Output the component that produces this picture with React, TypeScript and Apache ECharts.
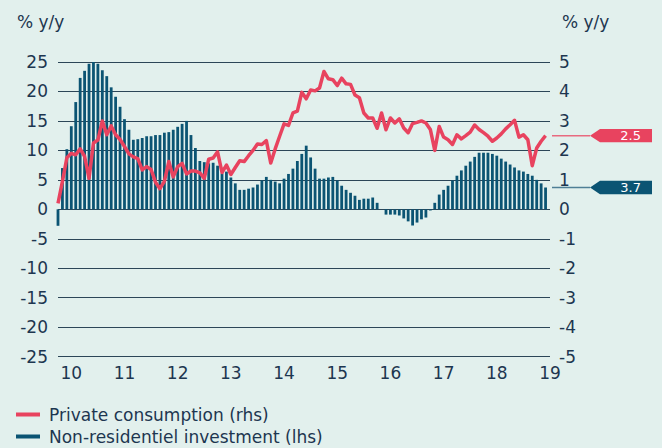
import React, { useEffect, useRef } from "react";
import * as echarts from "echarts";

// Monthly data, Oct 2009 .. Dec 2018
const startYear = 2009;
const startMonth = 10; // October
const yearLabels = ["10", "11", "12", "13", "14", "15", "16", "17", "18", "19"];

// Non-residential investment, % y/y (left axis)
const investment = [
  -2.8, 7.0, 10.2, 14.1, 18.2, 22.3, 23.5, 24.7, 25.8, 24.7,
  23.6, 22.6, 20.7, 19.1, 17.4, 15.3, 13.5, 11.8, 11.9, 12.1,
  12.4, 12.4, 12.6, 12.6, 13.0, 13.1, 13.5, 14.0, 14.5, 15.0,
  12.6, 10.4, 8.2, 8.0, 7.8, 7.9, 7.4, 6.1, 6.4, 5.4,
  4.4, 3.3, 3.3, 3.5, 3.7, 4.2, 4.9, 5.5, 5.0, 4.7,
  4.4, 5.2, 6.0, 6.9, 8.2, 9.4, 10.8, 8.8, 6.9, 5.2,
  5.2, 5.4, 5.5, 4.9, 4.0, 3.3, 2.8, 2.3, 1.6, 1.8,
  1.8, 2.0, 1.1, 0.0, -0.9, -0.9, -0.9, -1.05, -1.55, -2.05,
  -2.75, -2.25, -1.7, -1.4, -0.2, 1.1, 2.5, 3.3, 4.0, 4.9,
  5.7, 6.6, 7.4, 8.1, 8.9, 9.6, 9.6, 9.6, 9.4, 9.1,
  8.6, 8.1, 7.6, 7.1, 6.6, 6.4, 6.0, 5.7, 5.0, 4.4,
  3.7,
];

// Private consumption, % y/y (right axis)
const consumption = [
  0.2, 0.95, 1.75, 1.9, 1.85, 2.05, 1.8, 1.05, 2.25, 2.35,
  3.0, 2.53, 2.83, 2.53, 2.37, 2.13, 1.88, 1.78, 1.72, 1.34,
  1.45, 1.35, 0.92, 0.7, 0.95, 1.62, 1.1, 1.45, 1.56, 1.2,
  1.3, 1.3, 1.24, 1.05, 1.7, 1.74, 1.95, 1.25, 1.5, 1.18,
  1.42, 1.65, 1.62, 1.82, 2.0, 2.22, 2.2, 2.33, 1.57, 2.05,
  2.48, 2.9, 2.85, 3.27, 3.33, 3.97, 3.75, 4.05, 4.02, 4.12,
  4.68, 4.43, 4.4, 4.2, 4.45, 4.26, 4.24, 3.88, 3.79, 3.27,
  3.1, 3.1, 2.75, 3.27, 2.7, 3.1, 2.93, 3.07, 2.76, 2.6,
  2.91, 2.95, 3.0, 2.93, 2.71, 2.0, 2.81, 2.45, 2.36, 2.2,
  2.53, 2.39, 2.5, 2.62, 2.86, 2.71, 2.6, 2.48, 2.31, 2.42,
  2.56, 2.73, 2.87, 3.02, 2.45, 2.53, 2.36, 1.48, 2.08, 2.31,
  2.5,
];

const consumptionName = "Private consumption (rhs)";
const investmentName = "Non-residentiel investment (lhs)";

const RED = "#e8435f";
const BLUE = "#0b5473";
const NAVY = "#1d3650";
const GRID = "#2c4658";
const BG = "#e2f0ed";
const FONT = "DejaVu Sans";

// one category per month, plus Jan 2019 for the last year label
const categories: string[] = [];
for (let i = 0; i <= investment.length; i++) {
  const m = startMonth - 1 + i;
  const y = startYear + Math.floor(m / 12);
  const mm = (m % 12) + 1;
  categories.push(`${y}-${mm < 10 ? "0" + mm : mm}`);
}

const yearLabelFor = (cat: string) => {
  const [y, m] = cat.split("-");
  if (m !== "01") return "";
  const idx = Number(y) - 2010;
  return yearLabels[idx] ?? "";
};

export default function App() {
  const ref = useRef<HTMLDivElement>(null);

  useEffect(() => {
    if (!ref.current) return;
    const chart = echarts.init(ref.current, undefined, { renderer: "svg" });

    const axisLabelStyle = {
      color: NAVY,
      fontFamily: FONT,
      fontSize: 17,
    };

    chart.setOption({
      animation: false,
      backgroundColor: BG,
      grid: { left: 58, right: 112, top: 62, bottom: 91.4, containLabel: false },
      legend: {
        orient: "vertical",
        left: 16,
        top: 406,
        height: 42,
        padding: 0,
        itemWidth: 24,
        itemHeight: 4,
        itemGap: 5,
        icon: "rect",
        data: [consumptionName, investmentName],
        textStyle: {
          color: NAVY,
          fontFamily: FONT,
          fontSize: 17,
          lineHeight: 17,
          padding: [0, 0, 0, 4],
        },
        selectedMode: false,
      },
      xAxis: {
        type: "category",
        data: categories,
        boundaryGap: false,
        axisLine: { show: false },
        axisTick: { show: false },
        splitLine: { show: false },
        axisLabel: {
          ...axisLabelStyle,
          margin: 8,
          interval: (_i: number, v: string) => yearLabelFor(v) !== "",
          formatter: (v: string) => yearLabelFor(v),
        },
      },
      yAxis: [
        {
          type: "value",
          min: -25,
          max: 25,
          interval: 5,
          axisLine: { show: false },
          axisTick: { show: false },
          splitLine: { show: true, lineStyle: { color: GRID, width: 1 } },
          axisLabel: {
            ...axisLabelStyle,
            margin: 10,
            verticalAlign: "middle",
            padding: [0, 0, 8, 0],
          },
        },
        {
          type: "value",
          min: -5,
          max: 5,
          interval: 1,
          position: "right",
          axisLine: { show: false },
          axisTick: { show: false },
          splitLine: { show: false },
          axisLabel: {
            ...axisLabelStyle,
            margin: 9,
            verticalAlign: "middle",
            padding: [0, 0, 8, 0],
          },
        },
      ],
      series: [
        {
          name: investmentName,
          type: "bar",
          yAxisIndex: 0,
          data: investment,
          barWidth: 2.8,
          itemStyle: { color: BLUE },
          z: 2,
        },
        {
          name: consumptionName,
          type: "line",
          yAxisIndex: 1,
          data: consumption,
          symbol: "none",
          lineStyle: { color: RED, width: 3.5, join: "round" },
          itemStyle: { color: RED },
          z: 3,
        },
      ],
    });

    const lastIdx = investment.length - 1;
    const lastCons = consumption[consumption.length - 1];
    const lastInv = investment[lastIdx];
    const xEnd = chart.convertToPixel({ xAxisIndex: 0 }, categories[categories.length - 1]) as number;
    const yCons = chart.convertToPixel({ yAxisIndex: 1 }, lastCons) as number;
    const yInv = chart.convertToPixel({ yAxisIndex: 0 }, lastInv) as number;

    const tag = (yc: number, color: string, lineColor: string, value: number) => {
      const tipX = xEnd + 40;
      const bodyX = tipX + 10;
      const endX = tipX + 62;
      const h = 6.7;
      return [
        {
          type: "line",
          shape: { x1: xEnd + 2, y1: yc, x2: tipX, y2: yc },
          style: { stroke: lineColor, lineWidth: 1.5 },
          silent: true,
        },
        {
          type: "polygon",
          shape: {
            points: [
              [tipX, yc],
              [bodyX, yc - h],
              [endX, yc - h],
              [endX, yc + h],
              [bodyX, yc + h],
            ],
          },
          style: { fill: color },
          silent: true,
        },
        {
          type: "text",
          x: endX - 11,
          y: yc,
          style: {
            text: value.toFixed(1),
            fill: "#ffffff",
            font: `13px ${FONT}`,
            align: "right",
            verticalAlign: "middle",
          },
          silent: true,
        },
      ];
    };

    chart.setOption({
      graphic: [
        {
          type: "text",
          x: 17,
          y: 22,
          style: {
            text: "% y/y",
            fill: NAVY,
            font: `17px ${FONT}`,
            verticalAlign: "middle",
          },
        },
        {
          type: "text",
          x: 562,
          y: 22,
          style: {
            text: "% y/y",
            fill: NAVY,
            font: `17px ${FONT}`,
            verticalAlign: "middle",
          },
        },
        ...tag(yCons, RED, "#e86a80", lastCons),
        ...tag(yInv, BLUE, "#4f7f96", lastInv),
      ],
    });

    return () => chart.dispose();
  }, []);

  return (
    <div
      ref={ref}
      style={{ position: "fixed", left: 0, top: 0, width: 662, height: 448 }}
    />
  );
}
